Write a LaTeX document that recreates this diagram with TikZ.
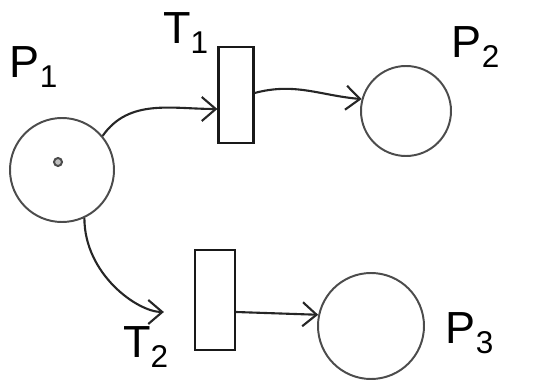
\documentclass[tikz,border=0pt]{standalone}
\usepackage{fontspec}
\setmainfont{Liberation Sans}
\usepackage{tikz}
\usetikzlibrary{arrows.meta, positioning}

\begin{document}
\begin{tikzpicture}[
  place/.style={circle, draw=black!70, line width=1.4pt, inner sep=0pt},
  trans/.style={rectangle, draw=black!90, line width=1.6pt, inner sep=0pt},
  lbl/.style={font=\fontsize{32}{34}\selectfont, text=black},
  arc/.style={-{Straight Barb[length=3.5mm,width=6mm]}, line width=1.5pt, draw=black!85}
]
\useasboundingbox (0,0) rectangle (13.75,9.525);
\node[place, minimum size=2.6cm]  (P1) at (1.55,5.275)  {};
\node[circle, draw=black!70, fill=black!25, line width=1.4pt, minimum size=0.2cm, inner sep=0pt] (tok) at (1.45,5.475) {};
\node[trans, minimum width=0.875cm, minimum height=2.4cm] (T1) at (5.9,7.15) {};
\node[place, minimum size=2.25cm] (P2) at (10.15,6.75) {};
\node[trans, minimum width=1.0cm, minimum height=2.5cm]   (T2) at (5.375,2.025) {};
\node[place, minimum size=2.65cm] (P3) at (9.275,1.375) {};
\node[lbl] (lP1) at (0.85,7.85)  {P\textsubscript{1}};
\node[lbl] (lT1) at (4.65,8.7)   {T\textsubscript{1}};
\node[lbl] (lP2) at (11.9,8.35)  {P\textsubscript{2}};
\node[lbl] (lT2) at (3.65,0.85)  {T\textsubscript{2}};
\node[lbl] (lP3) at (11.75,1.2) {P\textsubscript{3}};
\draw[arc] (P1.40) to[out=55,in=180] ([yshift=-0.35cm]T1.west);
\draw[arc] ([yshift=0.05cm]T1.east) to[out=15,in=175] (P2.165);
\draw[arc, shorten >=0.75cm] (P1.-65) to[out=-90,in=180] ([yshift=-0.3cm]T2.west);
\draw[arc] ([yshift=-0.3cm]T2.east) -- (P3.168);
\end{tikzpicture}
\end{document}
